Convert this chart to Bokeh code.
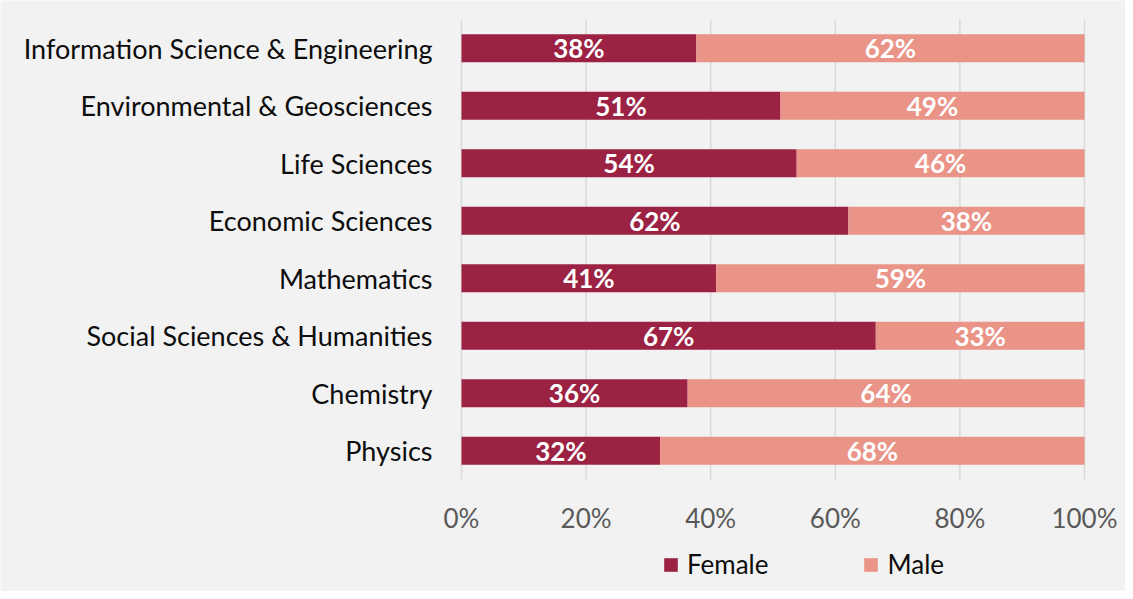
from bokeh.plotting import figure
from bokeh.models import ColumnDataSource, Range1d, Legend, LegendItem
from bokeh.core.properties import value
from bokeh.embed import file_html
from bokeh.resources import INLINE

categories = ["Information Science & Engineering", "Environmental & Geosciences", "Life Sciences",
              "Economic Sciences", "Mathematics", "Social Sciences & Humanities", "Chemistry", "Physics"]
female = [0.377, 0.512, 0.538, 0.621, 0.409, 0.665, 0.363, 0.319]
male = [0.623, 0.488, 0.462, 0.379, 0.591, 0.335, 0.637, 0.681]
female_labels = ["38%", "51%", "54%", "62%", "41%", "67%", "36%", "32%"]
male_labels = ["62%", "49%", "46%", "38%", "59%", "33%", "64%", "68%"]
x_ticks = [0, 0.2, 0.4, 0.6, 0.8, 1.0]
x_tick_labels = ["0%", "20%", "40%", "60%", "80%", "100%"]

FEMALE_C = "#9b2242"
MALE_C = "#ea9387"
BG = "#f2f2f2"
FONT = "Lato"

# layout (pixels)
W, H = 1125, 591
PLOT_L, PLOT_W, PLOT_T, BAND = 461, 623, 19, 57.5
n = len(categories)
top_val = n - 0.5
x_start = -PLOT_L / PLOT_W
x_end = 1 + (W - PLOT_L - PLOT_W) / PLOT_W
y_end = top_val + PLOT_T / BAND
y_start = y_end - H / BAND

ypos = [n - 1 - i for i in range(n)]

src = ColumnDataSource(dict(
    y=ypos,
    cat=categories,
    f0=[0] * n,
    f1=female,
    m1=[f + m for f, m in zip(female, male)],
    fx=[f / 2 for f in female],
    mx=[f + m / 2 for f, m in zip(female, male)],
    fl=female_labels,
    ml=male_labels,
))

p = figure(width=W, height=H, output_backend="svg", toolbar_location=None,
           x_range=Range1d(x_start, x_end), y_range=Range1d(y_start, y_end),
           min_border=0, min_border_left=0, min_border_right=0, min_border_top=0, min_border_bottom=0)
p.background_fill_color = BG
p.border_fill_color = BG
p.outline_line_color = None
p.xaxis.visible = False
p.yaxis.visible = False
p.grid.visible = False

# vertical grid lines
p.segment(x0=x_ticks, y0=[-0.5] * len(x_ticks), x1=x_ticks, y1=[top_val] * len(x_ticks),
          line_color="#d9d9d9", line_width=1.5)

rf = p.hbar(y="y", left="f0", right="f1", height=0.49, source=src, fill_color=FEMALE_C, line_color=None)
rm = p.hbar(y="y", left="f1", right="m1", height=0.49, source=src, fill_color=MALE_C, line_color=None)

p.text(x="fx", y="y", text="fl", source=src, text_color="white", text_font=value(FONT),
       text_font_style="bold", text_font_size="26px", text_align="center", text_baseline="middle")
p.text(x="mx", y="y", text="ml", source=src, text_color="white", text_font=value(FONT),
       text_font_style="bold", text_font_size="26px", text_align="center", text_baseline="middle")

# category labels
p.text(x="f0", y="y", text="cat", source=src, text_color="#0d0d0d", text_font=value(FONT),
       text_font_size="27px", text_align="right", text_baseline="middle", x_offset=-29)

# x tick labels
p.text(x=x_ticks, y=[-0.5] * len(x_ticks), text=x_tick_labels, text_color="#595959",
       text_font=value(FONT), text_font_size="26px", text_align="center", text_baseline="middle",
       y_offset=38)

legend = Legend(items=[LegendItem(label="Female", renderers=[rf]), LegendItem(label="Male", renderers=[rm])],
                orientation="horizontal", location=(662, 11))
legend.padding = 0
legend.margin = 0
legend.border_line_color = None
legend.background_fill_alpha = 0
legend.glyph_width = 17
legend.glyph_height = 17
legend.label_standoff = 8
legend.spacing = 94
legend.label_text_font = FONT
legend.label_text_font_size = "26px"
legend.label_text_color = "#0d0d0d"
p.add_layout(legend)

open("out.html", "w").write(file_html(p, INLINE))
